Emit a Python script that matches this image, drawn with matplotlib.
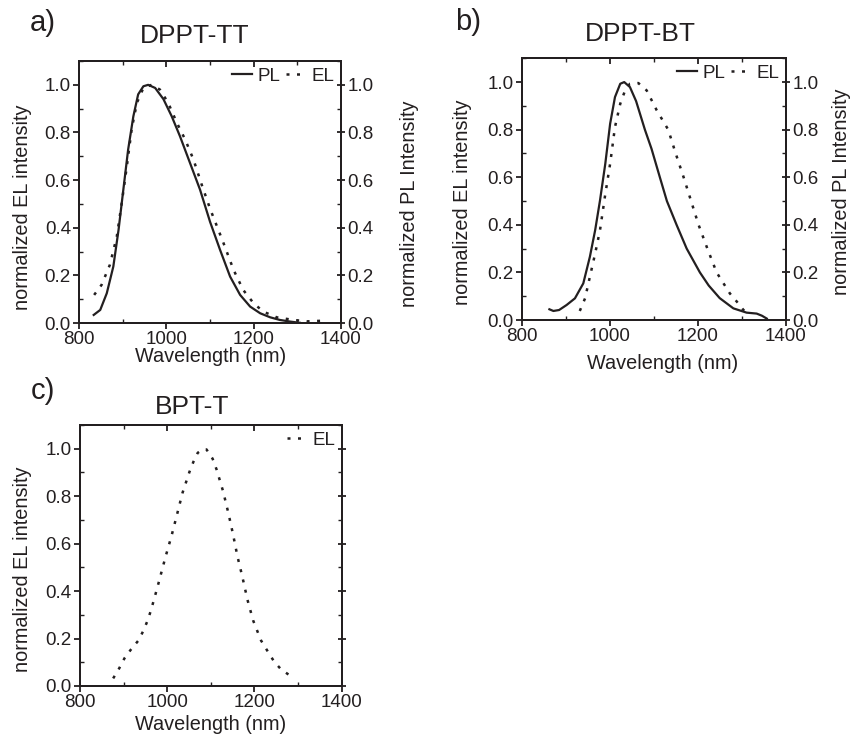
import numpy as np
import matplotlib as mpl
mpl.use('Agg')
from matplotlib import pyplot as plt
from matplotlib.ticker import MultipleLocator, NullFormatter

plt.rcParams['font.family'] = ['Liberation Sans', 'DejaVu Sans']
ink = '#231f20'
plt.rcParams.update({'text.color': ink, 'axes.edgecolor': ink, 'axes.labelcolor': ink,
                     'xtick.color': ink, 'ytick.color': ink, 'axes.linewidth': 1.4})

# DPPT-TT
a_pl_wl = [833, 848, 863, 878, 890, 901, 912, 924, 935, 947, 958, 974, 993, 1012, 1031,
           1054, 1077, 1100, 1123, 1146, 1169, 1192, 1215, 1238, 1260, 1284, 1306]
a_pl = [0.034, 0.055, 0.125, 0.237, 0.391, 0.56, 0.728, 0.868, 0.96, 0.994, 1.0, 0.987, 0.94,
        0.868, 0.784, 0.672, 0.56, 0.425, 0.307, 0.195, 0.118, 0.069, 0.041, 0.024, 0.013, 0.006, 0.001]
a_el_wl = [834, 851, 870, 886, 897, 909, 920, 932, 947, 966, 985, 1004, 1024, 1043, 1062,
           1081, 1100, 1115, 1131, 1154, 1176, 1200, 1222, 1253, 1291, 1322, 1364]
a_el = [0.118, 0.16, 0.244, 0.363, 0.5, 0.658, 0.812, 0.924, 0.987, 1.0, 0.98, 0.924, 0.84,
        0.77, 0.686, 0.58, 0.48, 0.41, 0.335, 0.223, 0.139, 0.083, 0.048, 0.024, 0.013, 0.007, 0.01]

# DPPT-BT
b_pl_wl = [863, 872, 885, 902, 921, 940, 955, 967, 978, 990, 1001, 1012, 1024, 1033, 1046,
           1060, 1080, 1095, 1114, 1130, 1152, 1175, 1205, 1225, 1250, 1281, 1311, 1334, 1346, 1357]
b_pl = [0.045, 0.038, 0.042, 0.063, 0.091, 0.154, 0.266, 0.378, 0.503, 0.657, 0.825, 0.937,
        0.993, 1.0, 0.979, 0.92, 0.8, 0.72, 0.60, 0.50, 0.40, 0.30, 0.20, 0.145, 0.092, 0.049,
        0.031, 0.027, 0.018, 0.006]
b_el_wl = [932, 944, 955, 967, 978, 989, 1001, 1012, 1024, 1035, 1046, 1065, 1084, 1107, 1133,
           1150, 1168, 1185, 1202, 1222, 1243, 1273, 1289, 1304, 1315]
b_el = [0.038, 0.091, 0.182, 0.28, 0.378, 0.517, 0.657, 0.811, 0.909, 0.965, 0.993, 0.996,
        0.965, 0.881, 0.80, 0.70, 0.60, 0.50, 0.40, 0.30, 0.20, 0.112, 0.077, 0.042, 0.025]

# BPT-T
c_el_wl = [876, 890, 902, 916, 934, 945, 955, 963, 977, 996, 1010, 1023, 1035, 1051, 1060, 1070,
           1081, 1090, 1104, 1113, 1128, 1140, 1151, 1161, 1172, 1184, 1197, 1215, 1232, 1245, 1261, 1283]
c_el = [0.032, 0.075, 0.117, 0.152, 0.192, 0.232, 0.276, 0.321, 0.413, 0.544, 0.634, 0.727,
        0.814, 0.903, 0.945, 0.983, 0.997, 0.997, 0.958, 0.913, 0.821, 0.73, 0.638, 0.546, 0.462,
        0.363, 0.276, 0.192, 0.141, 0.103, 0.07, 0.042]

dotted = (0, (1.2, 3.0))
fs_tick = 13.5
fs_lab = 14.3


def frame(ax, right_labels):
  ax.set_xlim(800, 1400)
  ax.set_ylim(0, 1.1)
  ax.xaxis.set_major_locator(MultipleLocator(200))
  ax.xaxis.set_minor_locator(MultipleLocator(100))
  ax.yaxis.set_major_locator(MultipleLocator(0.2))
  ax.yaxis.set_minor_locator(MultipleLocator(0.1))
  ax.yaxis.set_major_formatter(mpl.ticker.FormatStrFormatter('%.1f'))
  ax.tick_params(which='major', direction='out', length=4, width=1.3, labelsize=fs_tick, pad=2)
  ax.tick_params(which='minor', direction='in', length=3, width=1.0)
  top = ax.secondary_xaxis('top')
  top.xaxis.set_major_locator(MultipleLocator(200))
  top.xaxis.set_minor_locator(MultipleLocator(100))
  top.tick_params(which='both', direction='in', labeltop=False)
  top.tick_params(which='major', length=4, width=1.3)
  top.tick_params(which='minor', length=3, width=1.0)
  rt = ax.twinx()
  rt.set_ylim(0, 1.1)
  rt.yaxis.set_major_locator(MultipleLocator(0.2))
  rt.yaxis.set_minor_locator(MultipleLocator(0.1))
  rt.tick_params(which='major', direction='inout', length=6, width=1.3, labelsize=fs_tick, pad=2)
  rt.tick_params(which='minor', direction='in', length=3, width=1.0)
  if right_labels:
    rt.yaxis.set_major_formatter(mpl.ticker.FormatStrFormatter('%.1f'))
  else:
    rt.yaxis.set_major_formatter(NullFormatter())
  return rt


fig = plt.figure(figsize=(8.53, 7.37), dpi=100)
ax_a = fig.add_axes([0.093, 0.5617, 0.3065, 0.3555])
ax_b = fig.add_axes([0.6116, 0.5658, 0.3095, 0.3551])
ax_c = fig.add_axes([0.0938, 0.0692, 0.3068, 0.3541])

for ax, pl_wl, pl, el_wl, el, xl, yl, yr in [
    (ax_a, a_pl_wl, a_pl, a_el_wl, a_el, (0.504, -0.092), (-0.181, 0.443), (1.227, 0.456)),
    (ax_b, b_pl_wl, b_pl, b_el_wl, b_el, (0.534, -0.13), (-0.188, 0.451), (1.176, 0.489))]:
  rt = frame(ax, True)
  h1, = rt.plot(pl_wl, pl, '-', color=ink, lw=1.6, label='PL')
  h2, = ax.plot(el_wl, el, linestyle=dotted, color=ink, lw=1.8, label='EL')
  rt.legend([h1, h2], ['PL', 'EL'], loc='upper right', ncol=2, frameon=False,
            fontsize=fs_tick, handlelength=1.05, handletextpad=0.3, columnspacing=0.3,
            borderaxespad=0.15, borderpad=0.2)
  ax.set_xlabel('Wavelength (nm)', fontsize=fs_lab)
  ax.xaxis.set_label_coords(*xl)
  ax.set_ylabel('normalized EL intensity', fontsize=fs_lab)
  ax.yaxis.set_label_coords(*yl)
  rt.set_ylabel('normalized PL Intensity', fontsize=fs_lab, rotation=90)
  rt.yaxis.set_label_coords(*yr)

rt = frame(ax_c, False)
h2, = ax_c.plot(c_el_wl, c_el, linestyle=dotted, color=ink, lw=1.8, label='EL')
ax_c.legend([h2], ['EL'], loc='upper right', frameon=False, fontsize=fs_tick,
            handlelength=1.05, handletextpad=0.3, borderaxespad=0.15, borderpad=0.2)
ax_c.set_xlabel('Wavelength (nm)', fontsize=fs_lab)
ax_c.xaxis.set_label_coords(0.5, -0.11)
ax_c.set_ylabel('normalized EL intensity', fontsize=fs_lab)
ax_c.yaxis.set_label_coords(-0.183, 0.448)

W, H = 853.0, 737.0
for txt, x, y in [('a)', 43, 23), ('b)', 468, 22), ('c)', 43, 391)]:
  fig.text(x / W, 1 - y / H, txt, fontsize=21, ha='center', va='center')
for txt, x, y in [('DPPT-TT', 195, 36), ('DPPT-BT', 640, 34), ('BPT-T', 192.5, 407)]:
  fig.text(x / W, 1 - y / H, txt, fontsize=19, ha='center', va='center')

fig.savefig('out.png', dpi=100)
